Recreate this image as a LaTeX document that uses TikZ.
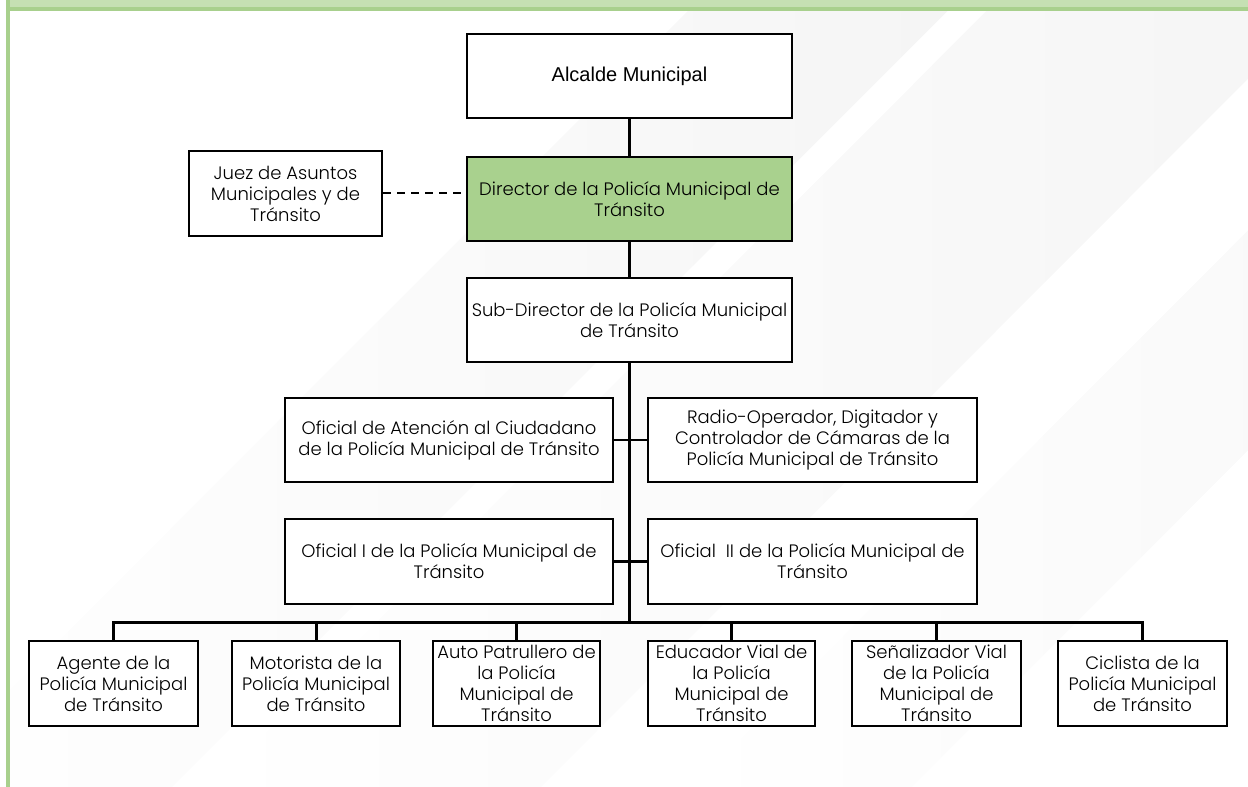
\documentclass[tikz,border=0pt]{standalone}
\usepackage{fontspec}
\setmainfont{Poppins}[UprightFont=* Light]
\newfontfamily\arialfont{Liberation Sans}
\usetikzlibrary{fadings}
\begin{document}
\begin{tikzpicture}[x=1pt,y=-1pt,
  orgbox/.style={draw=black, line width=2.6pt, fill=white, rectangle, align=center,
    inner sep=0.5pt, font=\fontsize{18}{21}\selectfont},
  headbox/.style={orgbox, fill=dirgreen},
  link/.style={draw=black, line width=3pt},
  thinlink/.style={draw=black, line width=2.2pt},
  dotlink/.style={draw=black, line width=2.4pt, dash pattern=on 8pt off 6pt},
  sheen/.style={fill=black, opacity=0.04, path fading=west}]
\definecolor{bandlight}{HTML}{C5E0B3}
\definecolor{banddark}{HTML}{A8D08D}
\definecolor{dirgreen}{HTML}{A9D18E}
% page and frame
\useasboundingbox (0,0) rectangle (1248,787);
\fill[white] (0,0) rectangle (1248,787);
\begin{scope}
  \clip (10,11) rectangle (1248,787);
  % faint diagonal sheen in the background
  \fill[sheen] (689,11) -- (949,11) -- (173,787) -- (-87,787) -- cycle;
  \fill[sheen] (989,11) -- (1319,11) -- (543,787) -- (213,787) -- cycle;
  \fill[sheen] (1469,11) -- (1689,11) -- (913,787) -- (693,787) -- cycle;
\end{scope}
\fill[bandlight] (10,0) rectangle (1248,7);
\fill[banddark] (10,7) rectangle (1248,11);
\fill[banddark] (6,0) rectangle (10,787);

% upper chain
\node[orgbox, minimum width=325pt, minimum height=84pt, font=\arialfont\fontsize{20}{22}\selectfont]
  (alcalde) at (629.5,76) {Alcalde Municipal};
\node[headbox, minimum width=325pt, minimum height=84pt] (director) at (629.5,199)
  {Director de la Policía Municipal de\\Tránsito};
\node[orgbox, minimum width=193pt, minimum height=85pt] (juez) at (285.5,193.5)
  {Juez de Asuntos\\Municipales y de\\Tránsito};
\node[orgbox, minimum width=325pt, minimum height=84pt] (sub) at (629.5,320)
  {Sub-Director de la Policía Municipal\\de Tránsito};

% staff level
\node[orgbox, minimum width=328pt, minimum height=84pt] (atencion) at (449,440)
  {Oficial de Atención al Ciudadano\\de la Policía Municipal de Tránsito};
\node[orgbox, minimum width=329pt, minimum height=84pt] (radio) at (812.5,440)
  {Radio-Operador, Digitador y\\Controlador de Cámaras de la\\Policía Municipal de Tránsito};
\node[orgbox, minimum width=328pt, minimum height=85pt] (ofi) at (449,561.5)
  {Oficial I de la Policía Municipal de\\Tránsito};
\node[orgbox, minimum width=329pt, minimum height=85pt] (ofii) at (812.5,561.5)
  {Oficial\ \ II de la Policía Municipal de\\Tránsito};

% operational units
\node[orgbox, minimum width=169pt, minimum height=85pt] (agente) at (113.5,683.5)
  {Agente de la\\Policía Municipal\\de Tránsito};
\node[orgbox, minimum width=168pt, minimum height=85pt] (motorista) at (316,683.5)
  {Motorista de la\\Policía Municipal\\de Tránsito};
\node[orgbox, minimum width=167pt, minimum height=85pt] (auto) at (516.5,683.5)
  {Auto Patrullero de\\la Policía\\Municipal de\\Tránsito};
\node[orgbox, minimum width=167pt, minimum height=85pt] (educador) at (731.5,683.5)
  {Educador Vial de\\la Policía\\Municipal de\\Tránsito};
\node[orgbox, minimum width=169pt, minimum height=85pt] (senal) at (936.5,683.5)
  {Señalizador Vial\\de la Policía\\Municipal de\\Tránsito};
\node[orgbox, minimum width=169pt, minimum height=85pt] (ciclista) at (1142.5,683.5)
  {Ciclista de la\\Policía Municipal\\de Tránsito};

% connectors
\coordinate (busy) at (0,622);
\draw[thinlink] (alcalde.south) -- (director.north);
\draw[dotlink] (juez.east |- 0,193) -- (director.west |- 0,193);
\draw[thinlink] (director.south) -- (sub.north);
\draw[link] (sub.south) -- (sub.south |- busy);
\draw[thinlink] (atencion.east) -- (radio.west);
\draw[thinlink] (ofi.east) -- (ofii.west);
\draw[link] ([xshift=-1.5pt]agente.north |- busy) -- ([xshift=1.5pt]ciclista.north |- busy);
\foreach \n in {agente,motorista,auto,educador,senal,ciclista}
  \draw[link] (\n.north |- busy) -- (\n.north);
\end{tikzpicture}
\end{document}
